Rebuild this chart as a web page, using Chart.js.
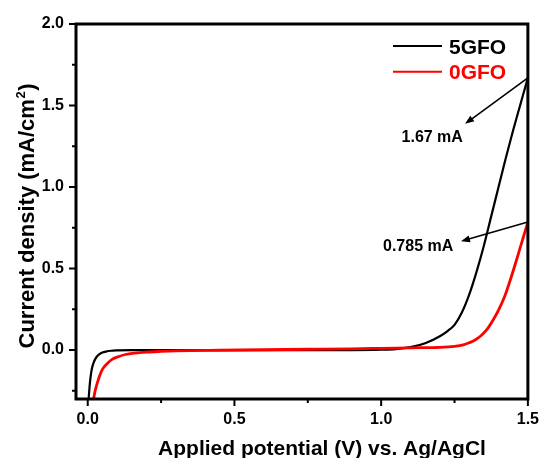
<!DOCTYPE html>
<html>
<head>
<meta charset="utf-8">
<script src="https://cdn.jsdelivr.net/npm/chart.js@4.4.1/dist/chart.umd.min.js"></script>
<style>
  html, body { margin: 0; padding: 0; background: #fff; }
  canvas { display: block; }
</style>
</head>
<body>
<canvas id="lsv" width="550" height="458"></canvas>
<script>
// linear sweep voltammetry, current density vs applied potential
const seriesNames = ['5GFO', '0GFO'];
const seriesColors = ['#000000', '#ff0000'];

const x5GFO = [0.003, 0.006, 0.009, 0.012, 0.016, 0.02, 0.025, 0.032, 0.04, 0.05, 0.062, 0.08, 0.1, 0.15, 0.2,
  0.3, 0.4, 0.5, 0.6, 0.7, 0.8, 0.9, 1.0, 1.05, 1.1, 1.15, 1.2, 1.225, 1.25, 1.275, 1.3, 1.325, 1.35,
  1.375, 1.4, 1.425, 1.45, 1.475, 1.5];
const y5GFO = [-0.3, -0.23, -0.175, -0.135, -0.1, -0.078, -0.057, -0.038, -0.025, -0.015, -0.009, -0.004, -0.002, 0, 0,
  0, 0, 0, 0, 0, 0, 0, 0.002, 0.006, 0.018, 0.042, 0.085, 0.115, 0.155, 0.23, 0.34, 0.48, 0.64,
  0.82, 1.0, 1.18, 1.35, 1.51, 1.67];

const x0GFO = [0.02, 0.024, 0.028, 0.033, 0.04, 0.05, 0.065, 0.083, 0.1, 0.128, 0.16, 0.2, 0.25, 0.3, 0.35,
  0.45, 0.6, 0.75, 0.9, 1.0, 1.1, 1.2, 1.25, 1.28, 1.3, 1.32, 1.34, 1.36, 1.38, 1.4, 1.42, 1.44,
  1.46, 1.48, 1.5];
const y0GFO = [-0.3, -0.26, -0.23, -0.2, -0.16, -0.118, -0.085, -0.057, -0.043, -0.027, -0.018, -0.012, -0.008, -0.005, -0.003,
  -0.001, 0.002, 0.005, 0.008, 0.011, 0.014, 0.017, 0.023, 0.032, 0.045, 0.062, 0.088, 0.125, 0.18, 0.245, 0.325, 0.43,
  0.545, 0.665, 0.785];

const xTickValues = [0, 0.25, 0.5, 0.75, 1.0, 1.25, 1.5];
const xTickLabels = ['0.0', '', '0.5', '', '1.0', '', '1.5'];
const yTickValues = [-0.25, 0, 0.25, 0.5, 0.75, 1.0, 1.25, 1.5, 1.75, 2.0];
const yTickLabels = ['', '0.0', '', '0.5', '', '1.0', '', '1.5', '', '2.0'];

const FONT = '"Liberation Sans", Arial, sans-serif';

// arrows from the end of each sweep to its current label
const callouts = [
  { x: x5GFO[x5GFO.length - 1], y: y5GFO[y5GFO.length - 1], tip: [1.286, 1.388], text: [1.174, 1.303] },
  { x: x0GFO[x0GFO.length - 1], y: y0GFO[y0GFO.length - 1], tip: [1.272, 0.667], text: [1.126, 0.635] }
];

function pts(xs, ys) {
  return xs.map((x, i) => ({ x: x, y: ys[i] }));
}

function arrow(ctx, x1, y1, x2, y2) {
  const a = Math.atan2(y2 - y1, x2 - x1);
  const len = 9, half = 3.5;
  ctx.beginPath();
  ctx.moveTo(x1, y1);
  ctx.lineTo(x2 - Math.cos(a) * len * 0.8, y2 - Math.sin(a) * len * 0.8);
  ctx.stroke();
  ctx.beginPath();
  ctx.moveTo(x2, y2);
  ctx.lineTo(x2 - Math.cos(a) * len + Math.sin(a) * half, y2 - Math.sin(a) * len - Math.cos(a) * half);
  ctx.lineTo(x2 - Math.cos(a) * len - Math.sin(a) * half, y2 - Math.sin(a) * len + Math.cos(a) * half);
  ctx.closePath();
  ctx.fill();
}

const decor = {
  id: 'decor',
  afterDraw(chart) {
    const ctx = chart.ctx;
    const area = chart.chartArea;
    const sx = chart.scales.x, sy = chart.scales.y;
    ctx.save();
    ctx.strokeStyle = '#000';
    ctx.fillStyle = '#000';

    // frame
    ctx.lineWidth = 3;
    ctx.strokeRect(area.left, area.top, area.right - area.left, area.bottom - area.top);

    // tick marks, outward, shorter for unlabelled ones
    ctx.lineWidth = 2;
    ctx.beginPath();
    sx.ticks.forEach((t, i) => {
      const px = sx.getPixelForValue(t.value);
      const l = xTickLabels[i] ? 7 : 4;
      ctx.moveTo(px, area.bottom);
      ctx.lineTo(px, area.bottom + l);
    });
    sy.ticks.forEach((t, i) => {
      const py = sy.getPixelForValue(t.value);
      const l = yTickLabels[i] ? 7 : 4;
      ctx.moveTo(area.left, py);
      ctx.lineTo(area.left - l, py);
    });
    ctx.stroke();

    // axis titles
    ctx.textAlign = 'center';
    ctx.textBaseline = 'alphabetic';
    ctx.font = 'bold 21px ' + FONT;
    ctx.fillText('Applied potential (V) vs. Ag/AgCl', area.left + 246, area.bottom + 56);

    ctx.save();
    ctx.translate(33.5, area.top + 192.5);
    ctx.rotate(-Math.PI / 2);
    ctx.textAlign = 'left';
    const main = 'Current density (mA/cm', sup = '2', tail = ')';
    ctx.font = 'bold 22px ' + FONT;
    const wMain = ctx.measureText(main).width, wTail = ctx.measureText(tail).width;
    ctx.font = 'bold 13px ' + FONT;
    const wSup = ctx.measureText(sup).width;
    let x0 = -(wMain + wSup + wTail) / 2;
    ctx.font = 'bold 22px ' + FONT;
    ctx.fillText(main, x0, 0);
    ctx.font = 'bold 13px ' + FONT;
    ctx.fillText(sup, x0 + wMain + 0.5, -9);
    ctx.font = 'bold 22px ' + FONT;
    ctx.fillText(tail, x0 + wMain + wSup + 1, 0);
    ctx.restore();

    // legend
    ctx.textAlign = 'left';
    ctx.font = 'bold 21px ' + FONT;
    seriesNames.forEach((name, i) => {
      const ly = area.top + 22 + i * 25.7;
      ctx.strokeStyle = seriesColors[i];
      ctx.fillStyle = seriesColors[i];
      ctx.lineWidth = 2;
      ctx.beginPath();
      ctx.moveTo(area.left + 317, ly);
      ctx.lineTo(area.left + 366, ly);
      ctx.stroke();
      ctx.fillText(name, area.left + 373, ly + 7.5);
    });

    // callouts
    ctx.strokeStyle = '#000';
    ctx.fillStyle = '#000';
    ctx.lineWidth = 1.6;
    ctx.font = 'bold 16px ' + FONT;
    ctx.textAlign = 'center';
    ctx.textBaseline = 'middle';
    callouts.forEach(c => {
      arrow(ctx, sx.getPixelForValue(c.x), sy.getPixelForValue(c.y),
        sx.getPixelForValue(c.tip[0]), sy.getPixelForValue(c.tip[1]));
      ctx.fillText(c.y + ' mA', sx.getPixelForValue(c.text[0]), sy.getPixelForValue(c.text[1]));
    });
    ctx.restore();
  }
};

new Chart(document.getElementById('lsv'), {
  type: 'line',
  data: {
    datasets: [
      { label: seriesNames[0], data: pts(x5GFO, y5GFO), borderColor: seriesColors[0], borderWidth: 2.2,
        pointRadius: 0, cubicInterpolationMode: 'monotone', order: 2 },
      { label: seriesNames[1], data: pts(x0GFO, y0GFO), borderColor: seriesColors[1], borderWidth: 2.8,
        pointRadius: 0, cubicInterpolationMode: 'monotone', order: 1 }
    ]
  },
  options: {
    responsive: false,
    animation: false,
    devicePixelRatio: 1,
    layout: { padding: { top: 24, right: 12, left: 0, bottom: 0 } },
    plugins: { legend: { display: false }, tooltip: { enabled: false } },
    scales: {
      x: {
        type: 'linear', min: -0.04, max: 1.5,
        afterBuildTicks: s => { s.ticks = xTickValues.map(v => ({ value: v })); },
        afterFit: s => { s.height = 59; },
        grid: { display: false, drawTicks: false },
        border: { display: false },
        ticks: {
          callback: (v, i) => xTickLabels[i],
          font: { family: FONT, size: 16, weight: 'bold' },
          color: '#000', padding: 11, maxRotation: 0, autoSkip: false
        }
      },
      y: {
        type: 'linear', min: -0.3, max: 2.0,
        afterBuildTicks: s => { s.ticks = yTickValues.map(v => ({ value: v })); },
        afterFit: s => { s.width = 76; },
        grid: { display: false, drawTicks: false },
        border: { display: false },
        ticks: {
          callback: (v, i) => yTickLabels[i],
          font: { family: FONT, size: 16, weight: 'bold' },
          color: '#000', padding: 12, autoSkip: false
        }
      }
    }
  },
  plugins: [decor]
});
</script>
</body>
</html>
